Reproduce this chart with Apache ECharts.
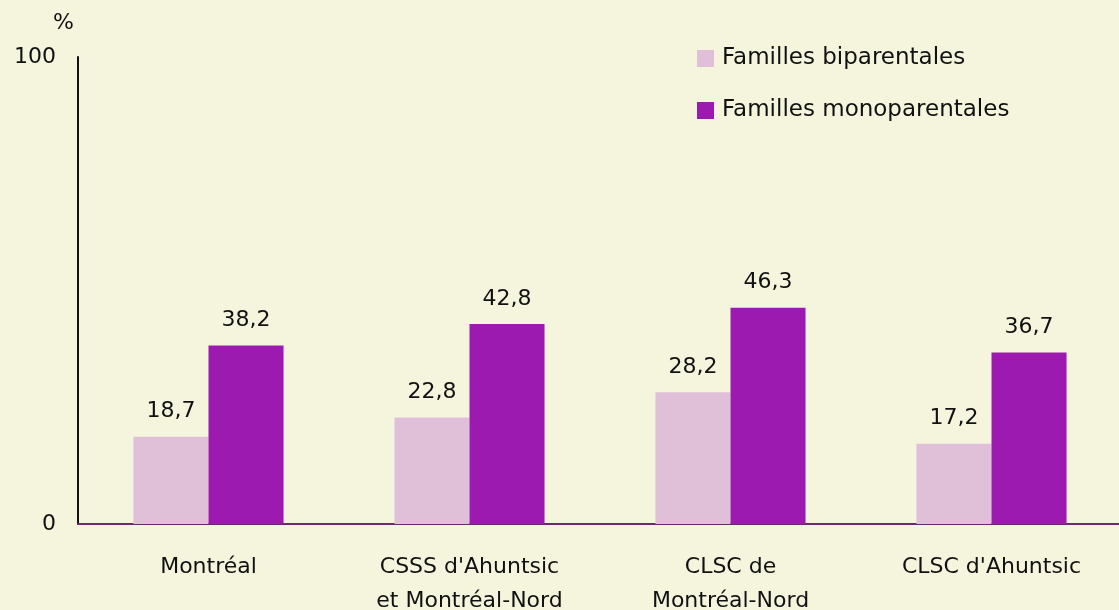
<!DOCTYPE html>
<html><head><meta charset="utf-8">
<script src="https://cdn.jsdelivr.net/npm/echarts@6/dist/echarts.min.js"></script>
<style>html,body{margin:0;padding:0;background:#f5f5de;}#c{width:1119px;height:610px;}</style>
</head><body><div id="c"></div>
<script>
const categories = ["Montréal", "CSSS d'Ahuntsic\net Montréal-Nord", "CLSC de\nMontréal-Nord", "CLSC d'Ahuntsic"];
const seriesNames = ["Familles biparentales", "Familles monoparentales"];
const biparentales = [18.7, 22.8, 28.2, 17.2];
const monoparentales = [38.2, 42.8, 46.3, 36.7];
const yTicks = [0, 100];

const FONT = "DejaVu Sans";
const FS = 22;
const chart = echarts.init(document.getElementById('c'));
const fmt = p => String(p.value).replace('.', ',');
chart.setOption({
  backgroundColor: '#f5f5de',
  animation: false,
  textStyle: { fontFamily: FONT },
  legend: {
    orient: 'vertical', left: 692, top: 42, itemWidth: 17, itemHeight: 17, itemGap: 29,
    textStyle: { fontSize: 23, color: '#111', fontFamily: FONT, padding: [0, 0, 0, 3] },
    data: seriesNames.map(n => ({ name: n, icon: 'rect' }))
  },
  grid: { left: 78, right: -3, top: 57, bottom: 86, containLabel: false, outerBoundsMode: 'none' },
  xAxis: {
    type: 'category', data: categories,
    axisLine: { lineStyle: { color: '#6b2a6e', width: 2 } },
    axisTick: { show: false },
    axisLabel: { fontSize: FS, color: '#111', margin: 26, lineHeight: 34, fontFamily: FONT }
  },
  yAxis: {
    type: 'value', min: 0, max: 100, interval: 100,
    name: '%', nameLocation: 'end', nameGap: 23,
    nameTextStyle: { fontSize: FS, color: '#111', align: 'right', padding: [0, 4, 0, 0], fontFamily: FONT },
    axisLine: { show: true, lineStyle: { color: '#111', width: 2 } },
    axisTick: { show: false },
    splitLine: { show: false },
    axisLabel: { fontSize: FS, color: '#111', margin: 22, fontFamily: FONT,
      formatter: v => yTicks.includes(v) ? String(v) : '' }
  },
  series: [
    { name: seriesNames[0], type: 'bar', data: biparentales, barGap: '0%', barCategoryGap: '42.5%',
      itemStyle: { color: '#e0c0d8' },
      label: { show: true, position: 'top', distance: 14, fontSize: FS, color: '#111', fontFamily: FONT, formatter: fmt } },
    { name: seriesNames[1], type: 'bar', data: monoparentales, barGap: '0%', barCategoryGap: '42.5%',
      itemStyle: { color: '#9c1ab0' },
      label: { show: true, position: 'top', distance: 14, fontSize: FS, color: '#111', fontFamily: FONT, formatter: fmt } }
  ]
});
</script></body></html>
